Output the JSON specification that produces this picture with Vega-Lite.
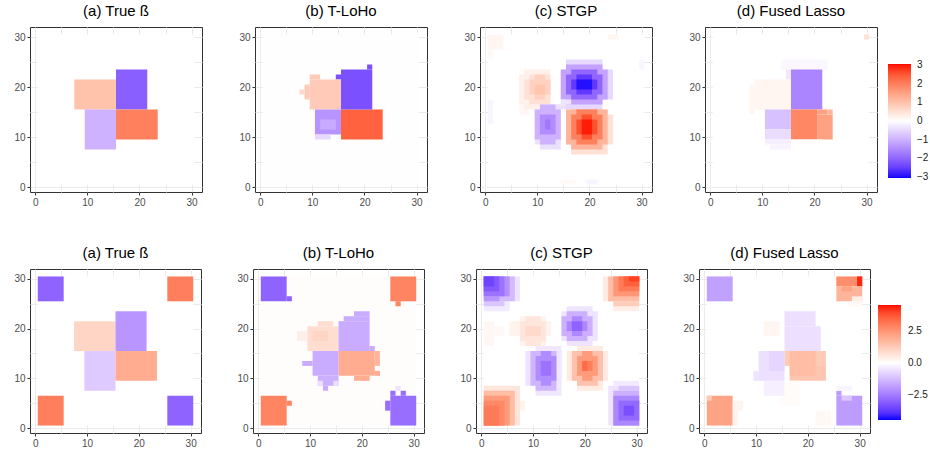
{
"$schema": "https://vega.github.io/schema/vega-lite/v6.json",
"padding": {"left": 13, "top": 3, "right": 0, "bottom": 0},
"data": {"values": [
{"p":"a1","x":0.5,"x2":30.5,"y":0.5,"y2":30.5,"v":0},
{"p":"a1","x":7.5,"x2":15.5,"y":15.5,"y2":21.5,"v":1},
{"p":"a1","x":15.5,"x2":21.5,"y":15.5,"y2":23.5,"v":-2.1},
{"p":"a1","x":9.5,"x2":15.5,"y":7.5,"y2":15.5,"v":-1},
{"p":"a1","x":15.5,"x2":23.5,"y":9.5,"y2":15.5,"v":2},

{"p":"b1","x":0.5,"x2":30.5,"y":0.5,"y2":30.5,"v":0.01},
{"p":"b1","x":15.5,"x2":23.5,"y":9.5,"y2":15.5,"v":2.4},
{"p":"b1","x":15.5,"x2":21.5,"y":15.5,"y2":23.5,"v":-2.3},
{"p":"b1","x":20.5,"x2":21.5,"y":23.5,"y2":24.5,"v":-2.3},
{"p":"b1","x":14.5,"x2":15.5,"y":21.5,"y2":22.5,"v":-2.3},
{"p":"b1","x":9.5,"x2":15.5,"y":15.5,"y2":21.5,"v":0.85},
{"p":"b1","x":9.5,"x2":11.5,"y":21.5,"y2":22.5,"v":0.85},
{"p":"b1","x":8.5,"x2":9.5,"y":17.5,"y2":20.5,"v":0.85},
{"p":"b1","x":7.5,"x2":8.5,"y":18.5,"y2":19.5,"v":0.6},
{"p":"b1","x":10.5,"x2":15.5,"y":10.5,"y2":15.5,"v":-1.4},
{"p":"b1","x":11.5,"x2":14.5,"y":11.5,"y2":13.5,"v":-1.1},
{"p":"b1","x":10.5,"x2":13.5,"y":9.5,"y2":10.5,"v":-0.5},

{"p":"c1","x":0.5,"x2":30.5,"y":0.5,"y2":30.5,"v":0},
{"p":"c1","x":0.5,"x2":3.5,"y":27.5,"y2":30.5,"v":0.15},
{"p":"c1","x":0.5,"x2":1.5,"y":25.5,"y2":27.5,"v":0.1},
{"p":"c1","x":0.5,"x2":1.5,"y":12.5,"y2":17.5,"v":-0.12},
{"p":"c1","x":23.5,"x2":25.5,"y":29.5,"y2":30.5,"v":0.15},
{"p":"c1","x":29.5,"x2":30.5,"y":23.5,"y2":25.5,"v":-0.12},
{"p":"c1","x":14.5,"x2":17.5,"y":0.5,"y2":1.5,"v":0.08},
{"p":"c1","x":19.5,"x2":21.5,"y":0.5,"y2":1.5,"v":-0.15},
{"p":"c1","x":6.5,"x2":8.5,"y":14.5,"y2":16.5,"v":0.12},
{"p":"c1","x":6.5,"x2":12.5,"y":16.5,"y2":22.5,"v":0.25},
{"p":"c1","x":7.5,"x2":12.5,"y":15.5,"y2":23.5,"v":0.25},
{"p":"c1","x":7.5,"x2":12.5,"y":17.5,"y2":21.5,"v":0.5},
{"p":"c1","x":8.5,"x2":12.5,"y":16.5,"y2":22.5,"v":0.5},
{"p":"c1","x":8.5,"x2":12.5,"y":18.5,"y2":21.5,"v":0.75},
{"p":"c1","x":9.5,"x2":11.5,"y":17.5,"y2":22.5,"v":0.75},
{"p":"c1","x":9.5,"x2":11.5,"y":18.5,"y2":20.5,"v":0.95},
{"p":"c1","x":14.5,"x2":24.5,"y":17.5,"y2":23.5,"v":-0.5},
{"p":"c1","x":15.5,"x2":22.5,"y":15.5,"y2":25.5,"v":-0.5},
{"p":"c1","x":14.5,"x2":23.5,"y":17.5,"y2":23.5,"v":-1.2},
{"p":"c1","x":15.5,"x2":22.5,"y":16.5,"y2":24.5,"v":-1.2},
{"p":"c1","x":15.5,"x2":22.5,"y":18.5,"y2":22.5,"v":-2.0},
{"p":"c1","x":16.5,"x2":21.5,"y":17.5,"y2":23.5,"v":-2.0},
{"p":"c1","x":16.5,"x2":21.5,"y":19.5,"y2":21.5,"v":-2.6},
{"p":"c1","x":17.5,"x2":20.5,"y":18.5,"y2":22.5,"v":-2.6},
{"p":"c1","x":17.5,"x2":20.5,"y":19.5,"y2":21.5,"v":-3.0},
{"p":"c1","x":15.5,"x2":24.5,"y":8.5,"y2":14.5,"v":0.5},
{"p":"c1","x":16.5,"x2":23.5,"y":6.5,"y2":15.5,"v":0.5},
{"p":"c1","x":15.5,"x2":23.5,"y":8.5,"y2":15.5,"v":1.2},
{"p":"c1","x":16.5,"x2":22.5,"y":7.5,"y2":15.5,"v":1.2},
{"p":"c1","x":16.5,"x2":22.5,"y":9.5,"y2":14.5,"v":2.0},
{"p":"c1","x":17.5,"x2":21.5,"y":8.5,"y2":15.5,"v":2.0},
{"p":"c1","x":17.5,"x2":21.5,"y":10.5,"y2":13.5,"v":2.6},
{"p":"c1","x":18.5,"x2":20.5,"y":9.5,"y2":14.5,"v":2.6},
{"p":"c1","x":18.5,"x2":20.5,"y":10.5,"y2":13.5,"v":3.0},
{"p":"c1","x":13.5,"x2":15.5,"y":15.5,"y2":16.5,"v":-0.4},
{"p":"c1","x":14.5,"x2":16.5,"y":16.5,"y2":17.5,"v":-0.35},
{"p":"c1","x":9.5,"x2":14.5,"y":8.5,"y2":15.5,"v":-0.4},
{"p":"c1","x":10.5,"x2":14.5,"y":7.5,"y2":16.5,"v":-0.4},
{"p":"c1","x":9.5,"x2":14.5,"y":9.5,"y2":15.5,"v":-1.0},
{"p":"c1","x":10.5,"x2":13.5,"y":8.5,"y2":16.5,"v":-1.0},
{"p":"c1","x":10.5,"x2":13.5,"y":10.5,"y2":14.5,"v":-1.5},
{"p":"c1","x":11.5,"x2":12.5,"y":11.5,"y2":13.5,"v":-1.8},

{"p":"d1","x":0.5,"x2":30.5,"y":0.5,"y2":30.5,"v":0},
{"p":"d1","x":13.5,"x2":22.5,"y":23.5,"y2":25.5,"v":-0.1},
{"p":"d1","x":14.5,"x2":15.5,"y":21.5,"y2":23.5,"v":-0.3},
{"p":"d1","x":8.5,"x2":15.5,"y":15.5,"y2":21.5,"v":0.15},
{"p":"d1","x":7.5,"x2":8.5,"y":14.5,"y2":20.5,"v":0.15},
{"p":"d1","x":15.5,"x2":21.5,"y":15.5,"y2":23.5,"v":-1.6},
{"p":"d1","x":15.5,"x2":20.5,"y":9.5,"y2":15.5,"v":1.9},
{"p":"d1","x":20.5,"x2":23.5,"y":9.5,"y2":14.5,"v":1.5},
{"p":"d1","x":20.5,"x2":22.5,"y":14.5,"y2":15.5,"v":1.5},
{"p":"d1","x":22.5,"x2":23.5,"y":14.5,"y2":15.5,"v":1.2},
{"p":"d1","x":10.5,"x2":15.5,"y":11.5,"y2":15.5,"v":-0.8},
{"p":"d1","x":10.5,"x2":15.5,"y":9.5,"y2":11.5,"v":-0.45},
{"p":"d1","x":10.5,"x2":15.5,"y":8.5,"y2":9.5,"v":-0.2},
{"p":"d1","x":11.5,"x2":15.5,"y":7.5,"y2":8.5,"v":-0.15},
{"p":"d1","x":15.5,"x2":21.5,"y":8.5,"y2":9.5,"v":0.05},
{"p":"d1","x":29.5,"x2":30.5,"y":29.5,"y2":30.5,"v":0.5},

{"p":"a2","x":0.5,"x2":30.5,"y":0.5,"y2":30.5,"v":0},
{"p":"a2","x":0.5,"x2":5.5,"y":25.5,"y2":30.5,"v":-3},
{"p":"a2","x":25.5,"x2":30.5,"y":25.5,"y2":30.5,"v":3},
{"p":"a2","x":0.5,"x2":5.5,"y":0.5,"y2":6.5,"v":3},
{"p":"a2","x":25.5,"x2":30.5,"y":0.5,"y2":6.5,"v":-3},
{"p":"a2","x":7.5,"x2":15.5,"y":15.5,"y2":21.5,"v":1},
{"p":"a2","x":15.5,"x2":21.5,"y":15.5,"y2":23.5,"v":-2},
{"p":"a2","x":9.5,"x2":15.5,"y":7.5,"y2":15.5,"v":-1},
{"p":"a2","x":15.5,"x2":23.5,"y":9.5,"y2":15.5,"v":2},

{"p":"b2","x":0.5,"x2":30.5,"y":0.5,"y2":30.5,"v":0.05},
{"p":"b2","x":0.5,"x2":5.5,"y":25.5,"y2":30.5,"v":-3},
{"p":"b2","x":5.5,"x2":6.5,"y":25.5,"y2":26.5,"v":-3},
{"p":"b2","x":25.5,"x2":30.5,"y":25.5,"y2":30.5,"v":2.9},
{"p":"b2","x":26.5,"x2":27.5,"y":24.5,"y2":25.5,"v":2.9},
{"p":"b2","x":0.5,"x2":5.5,"y":0.5,"y2":6.5,"v":2.9},
{"p":"b2","x":5.5,"x2":6.5,"y":4.5,"y2":5.5,"v":2.9},
{"p":"b2","x":25.5,"x2":30.5,"y":0.5,"y2":6.5,"v":-2.8},
{"p":"b2","x":24.5,"x2":25.5,"y":3.5,"y2":5.5,"v":-2.8},
{"p":"b2","x":25.5,"x2":26.5,"y":6.5,"y2":7.5,"v":-2.8},
{"p":"b2","x":27.5,"x2":28.5,"y":6.5,"y2":7.5,"v":-2.8},
{"p":"b2","x":26.5,"x2":27.5,"y":7.5,"y2":8.5,"v":-0.5},
{"p":"b2","x":7.5,"x2":9.5,"y":17.5,"y2":19.5,"v":0.4},
{"p":"b2","x":9.5,"x2":15.5,"y":15.5,"y2":20.5,"v":0.8},
{"p":"b2","x":11.5,"x2":14.5,"y":20.5,"y2":21.5,"v":0.8},
{"p":"b2","x":10.5,"x2":13.5,"y":17.5,"y2":19.5,"v":1.0},
{"p":"b2","x":15.5,"x2":21.5,"y":15.5,"y2":21.5,"v":-1.6},
{"p":"b2","x":16.5,"x2":21.5,"y":21.5,"y2":22.5,"v":-1.6},
{"p":"b2","x":18.5,"x2":21.5,"y":22.5,"y2":23.5,"v":-1.6},
{"p":"b2","x":21.5,"x2":22.5,"y":15.5,"y2":16.5,"v":-1.6},
{"p":"b2","x":15.5,"x2":22.5,"y":10.5,"y2":15.5,"v":2},
{"p":"b2","x":22.5,"x2":23.5,"y":12.5,"y2":15.5,"v":1.8},
{"p":"b2","x":18.5,"x2":21.5,"y":9.5,"y2":10.5,"v":2},
{"p":"b2","x":22.5,"x2":23.5,"y":10.5,"y2":11.5,"v":2},
{"p":"b2","x":10.5,"x2":15.5,"y":10.5,"y2":15.5,"v":-1.6},
{"p":"b2","x":8.5,"x2":10.5,"y":12.5,"y2":13.5,"v":-1.6},
{"p":"b2","x":11.5,"x2":15.5,"y":8.5,"y2":10.5,"v":-1.5},
{"p":"b2","x":11.5,"x2":12.5,"y":8.5,"y2":9.5,"v":-0.6},
{"p":"b2","x":14.5,"x2":15.5,"y":8.5,"y2":9.5,"v":-0.6},
{"p":"b2","x":12.5,"x2":13.5,"y":7.5,"y2":8.5,"v":-1.6},

{"p":"c2","x":0.5,"x2":30.5,"y":0.5,"y2":30.5,"v":0},
{"p":"c2","x":0.5,"x2":7.5,"y":25.5,"y2":30.5,"v":-0.5},
{"p":"c2","x":0.5,"x2":5.5,"y":23.5,"y2":25.5,"v":-0.4},
{"p":"c2","x":0.5,"x2":6.5,"y":25.5,"y2":30.5,"v":-1.3},
{"p":"c2","x":0.5,"x2":4.5,"y":24.5,"y2":25.5,"v":-1.1},
{"p":"c2","x":0.5,"x2":5.5,"y":26.5,"y2":30.5,"v":-2.1},
{"p":"c2","x":0.5,"x2":3.5,"y":25.5,"y2":26.5,"v":-2.0},
{"p":"c2","x":0.5,"x2":4.5,"y":26.5,"y2":30.5,"v":-2.7},
{"p":"c2","x":0.5,"x2":3.5,"y":27.5,"y2":30.5,"v":-3.2},
{"p":"c2","x":0.5,"x2":2.5,"y":28.5,"y2":30.5,"v":-3.6},
{"p":"c2","x":23.5,"x2":30.5,"y":25.5,"y2":30.5,"v":0.5},
{"p":"c2","x":25.5,"x2":30.5,"y":23.5,"y2":25.5,"v":0.4},
{"p":"c2","x":24.5,"x2":30.5,"y":25.5,"y2":30.5,"v":1.6},
{"p":"c2","x":25.5,"x2":30.5,"y":24.5,"y2":25.5,"v":1.2},
{"p":"c2","x":25.5,"x2":30.5,"y":26.5,"y2":30.5,"v":2.5},
{"p":"c2","x":26.5,"x2":30.5,"y":27.5,"y2":30.5,"v":3.1},
{"p":"c2","x":27.5,"x2":30.5,"y":28.5,"y2":30.5,"v":3.6},
{"p":"c2","x":28.5,"x2":30.5,"y":29.5,"y2":30.5,"v":4.1},
{"p":"c2","x":0.5,"x2":7.5,"y":0.5,"y2":8.5,"v":0.6},
{"p":"c2","x":7.5,"x2":8.5,"y":3.5,"y2":5.5,"v":0.3},
{"p":"c2","x":0.5,"x2":6.5,"y":0.5,"y2":7.5,"v":1.6},
{"p":"c2","x":0.5,"x2":5.5,"y":0.5,"y2":6.5,"v":2.4},
{"p":"c2","x":0.5,"x2":4.5,"y":0.5,"y2":5.5,"v":2.8},
{"p":"c2","x":0.5,"x2":3.5,"y":0.5,"y2":4.5,"v":3.1},
{"p":"c2","x":24.5,"x2":30.5,"y":0.5,"y2":8.5,"v":-0.5},
{"p":"c2","x":25.5,"x2":30.5,"y":8.5,"y2":9.5,"v":-0.4},
{"p":"c2","x":25.5,"x2":30.5,"y":0.5,"y2":7.5,"v":-1.5},
{"p":"c2","x":26.5,"x2":30.5,"y":7.5,"y2":8.5,"v":-1.1},
{"p":"c2","x":25.5,"x2":30.5,"y":0.5,"y2":6.5,"v":-2.3},
{"p":"c2","x":26.5,"x2":30.5,"y":1.5,"y2":5.5,"v":-2.9},
{"p":"c2","x":27.5,"x2":29.5,"y":2.5,"y2":4.5,"v":-3.4},
{"p":"c2","x":15.5,"x2":22.5,"y":17.5,"y2":23.5,"v":-0.5},
{"p":"c2","x":16.5,"x2":21.5,"y":16.5,"y2":24.5,"v":-0.5},
{"p":"c2","x":15.5,"x2":21.5,"y":18.5,"y2":22.5,"v":-1.5},
{"p":"c2","x":16.5,"x2":20.5,"y":17.5,"y2":23.5,"v":-1.5},
{"p":"c2","x":16.5,"x2":20.5,"y":19.5,"y2":21.5,"v":-2.3},
{"p":"c2","x":17.5,"x2":19.5,"y":18.5,"y2":22.5,"v":-2.3},
{"p":"c2","x":17.5,"x2":19.5,"y":19.5,"y2":21.5,"v":-3.0},
{"p":"c2","x":16.5,"x2":24.5,"y":9.5,"y2":15.5,"v":0.5},
{"p":"c2","x":18.5,"x2":23.5,"y":7.5,"y2":16.5,"v":0.5},
{"p":"c2","x":17.5,"x2":23.5,"y":9.5,"y2":15.5,"v":1.5},
{"p":"c2","x":18.5,"x2":22.5,"y":8.5,"y2":15.5,"v":1.5},
{"p":"c2","x":18.5,"x2":22.5,"y":10.5,"y2":14.5,"v":2.4},
{"p":"c2","x":19.5,"x2":21.5,"y":9.5,"y2":15.5,"v":2.4},
{"p":"c2","x":19.5,"x2":21.5,"y":11.5,"y2":13.5,"v":3.0},
{"p":"c2","x":19.5,"x2":20.5,"y":11.5,"y2":13.5,"v":3.4},
{"p":"c2","x":5.5,"x2":13.5,"y":18.5,"y2":21.5,"v":0.3},
{"p":"c2","x":7.5,"x2":12.5,"y":16.5,"y2":22.5,"v":0.3},
{"p":"c2","x":7.5,"x2":12.5,"y":17.5,"y2":21.5,"v":0.6},
{"p":"c2","x":8.5,"x2":11.5,"y":16.5,"y2":22.5,"v":0.6},
{"p":"c2","x":8.5,"x2":11.5,"y":18.5,"y2":20.5,"v":0.9},
{"p":"c2","x":0.5,"x2":2.5,"y":16.5,"y2":21.5,"v":0.2},
{"p":"c2","x":2.5,"x2":4.5,"y":18.5,"y2":20.5,"v":0.15},
{"p":"c2","x":8.5,"x2":15.5,"y":8.5,"y2":15.5,"v":-0.5},
{"p":"c2","x":10.5,"x2":15.5,"y":6.5,"y2":16.5,"v":-0.45},
{"p":"c2","x":9.5,"x2":14.5,"y":8.5,"y2":15.5,"v":-1.4},
{"p":"c2","x":10.5,"x2":14.5,"y":7.5,"y2":15.5,"v":-1.4},
{"p":"c2","x":10.5,"x2":14.5,"y":9.5,"y2":14.5,"v":-2.2},
{"p":"c2","x":11.5,"x2":13.5,"y":8.5,"y2":15.5,"v":-2.2},
{"p":"c2","x":11.5,"x2":13.5,"y":10.5,"y2":13.5,"v":-2.7},

{"p":"d2","x":0.5,"x2":30.5,"y":0.5,"y2":30.5,"v":0},
{"p":"d2","x":0.5,"x2":5.5,"y":25.5,"y2":30.5,"v":-1.8},
{"p":"d2","x":25.5,"x2":30.5,"y":28.5,"y2":30.5,"v":2.7},
{"p":"d2","x":29.5,"x2":30.5,"y":28.5,"y2":30.5,"v":4.4},
{"p":"d2","x":25.5,"x2":30.5,"y":25.5,"y2":28.5,"v":1.8},
{"p":"d2","x":26.5,"x2":28.5,"y":27.5,"y2":28.5,"v":2.2},
{"p":"d2","x":28.5,"x2":30.5,"y":25.5,"y2":26.5,"v":0.4},
{"p":"d2","x":27.5,"x2":30.5,"y":24.5,"y2":25.5,"v":0.12},
{"p":"d2","x":0.5,"x2":5.5,"y":0.5,"y2":6.5,"v":2.2},
{"p":"d2","x":0.5,"x2":1.5,"y":5.5,"y2":6.5,"v":1.3},
{"p":"d2","x":5.5,"x2":7.5,"y":3.5,"y2":5.5,"v":0.3},
{"p":"d2","x":5.5,"x2":6.5,"y":0.5,"y2":3.5,"v":0.3},
{"p":"d2","x":25.5,"x2":30.5,"y":0.5,"y2":6.5,"v":-1.9},
{"p":"d2","x":26.5,"x2":28.5,"y":5.5,"y2":6.5,"v":-1.1},
{"p":"d2","x":25.5,"x2":26.5,"y":6.5,"y2":7.5,"v":-1.9},
{"p":"d2","x":25.5,"x2":28.5,"y":7.5,"y2":8.5,"v":-0.2},
{"p":"d2","x":15.5,"x2":21.5,"y":20.5,"y2":23.5,"v":-0.6},
{"p":"d2","x":15.5,"x2":22.5,"y":15.5,"y2":20.5,"v":-0.6},
{"p":"d2","x":11.5,"x2":14.5,"y":18.5,"y2":21.5,"v":0.25},
{"p":"d2","x":15.5,"x2":23.5,"y":12.5,"y2":15.5,"v":1.3},
{"p":"d2","x":16.5,"x2":23.5,"y":9.5,"y2":12.5,"v":1.4},
{"p":"d2","x":16.5,"x2":21.5,"y":10.5,"y2":15.5,"v":1.6},
{"p":"d2","x":15.5,"x2":18.5,"y":6.5,"y2":9.5,"v":0.08},
{"p":"d2","x":14.5,"x2":18.5,"y":4.5,"y2":6.5,"v":0.08},
{"p":"d2","x":10.5,"x2":15.5,"y":9.5,"y2":15.5,"v":-0.6},
{"p":"d2","x":12.5,"x2":15.5,"y":11.5,"y2":15.5,"v":-0.8},
{"p":"d2","x":9.5,"x2":10.5,"y":9.5,"y2":11.5,"v":-0.5},
{"p":"d2","x":11.5,"x2":15.5,"y":6.5,"y2":9.5,"v":-0.3},
{"p":"d2","x":21.5,"x2":24.5,"y":0.5,"y2":3.5,"v":0.15}
]},
"vconcat": [
{"spacing": 35, "resolve": {"scale": {"color": "shared"}},
 "hconcat": [
  {"title": "(a) True ß", "width": 172, "height": 165, "transform": [{"filter": "datum.p === 'a1'"}], "mark": "rect",
   "encoding": {
    "x": {"field": "x", "type": "quantitative", "title": null, "scale": {"domain": [-1, 32], "nice": false, "zero": false}, "axis": {"values": [0,5,10,15,20,25,30], "labelExpr": "datum.value % 10 === 0 ? datum.label : ''", "tickOpacity": {"condition": {"test": "datum.value % 10 === 0", "value": 1}, "value": 0}}},
    "x2": {"field": "x2"},
    "y": {"field": "y", "type": "quantitative", "title": null, "scale": {"domain": [-1, 32], "nice": false, "zero": false}, "axis": {"values": [0,5,10,15,20,25,30], "labelExpr": "datum.value % 10 === 0 ? datum.label : ''", "tickOpacity": {"condition": {"test": "datum.value % 10 === 0", "value": 1}, "value": 0}}},
    "y2": {"field": "y2"},
    "color": {"field": "v", "type": "quantitative", "scale": {"domain": [-3.08, 0, 3.08], "range": ["#0000ff", "#ffffff", "#ff0000"], "interpolate": "lab"},
      "legend": {"title": null, "orient": "none", "legendX": 858, "legendY": 37, "gradientLength": 114, "gradientThickness": 23, "values": [-3,-2,-1,0,1,2,3], "labelOffset": 6}}
   }},
  {"title": "(b) T-LoHo", "width": 172, "height": 165, "transform": [{"filter": "datum.p === 'b1'"}], "mark": "rect",
   "encoding": {
    "x": {"field": "x", "type": "quantitative", "title": null, "scale": {"domain": [-1, 32], "nice": false, "zero": false}, "axis": {"values": [0,5,10,15,20,25,30], "labelExpr": "datum.value % 10 === 0 ? datum.label : ''", "tickOpacity": {"condition": {"test": "datum.value % 10 === 0", "value": 1}, "value": 0}}},
    "x2": {"field": "x2"},
    "y": {"field": "y", "type": "quantitative", "title": null, "scale": {"domain": [-1, 32], "nice": false, "zero": false}, "axis": {"values": [0,5,10,15,20,25,30], "labelExpr": "datum.value % 10 === 0 ? datum.label : ''", "tickOpacity": {"condition": {"test": "datum.value % 10 === 0", "value": 1}, "value": 0}}},
    "y2": {"field": "y2"},
    "color": {"field": "v", "type": "quantitative", "scale": {"domain": [-3.08, 0, 3.08], "range": ["#0000ff", "#ffffff", "#ff0000"], "interpolate": "lab"},
      "legend": {"title": null, "orient": "none", "legendX": 858, "legendY": 37, "gradientLength": 114, "gradientThickness": 23, "values": [-3,-2,-1,0,1,2,3], "labelOffset": 6}}
   }},
  {"title": "(c) STGP", "width": 172, "height": 165, "transform": [{"filter": "datum.p === 'c1'"}], "mark": "rect",
   "encoding": {
    "x": {"field": "x", "type": "quantitative", "title": null, "scale": {"domain": [-1, 32], "nice": false, "zero": false}, "axis": {"values": [0,5,10,15,20,25,30], "labelExpr": "datum.value % 10 === 0 ? datum.label : ''", "tickOpacity": {"condition": {"test": "datum.value % 10 === 0", "value": 1}, "value": 0}}},
    "x2": {"field": "x2"},
    "y": {"field": "y", "type": "quantitative", "title": null, "scale": {"domain": [-1, 32], "nice": false, "zero": false}, "axis": {"values": [0,5,10,15,20,25,30], "labelExpr": "datum.value % 10 === 0 ? datum.label : ''", "tickOpacity": {"condition": {"test": "datum.value % 10 === 0", "value": 1}, "value": 0}}},
    "y2": {"field": "y2"},
    "color": {"field": "v", "type": "quantitative", "scale": {"domain": [-3.08, 0, 3.08], "range": ["#0000ff", "#ffffff", "#ff0000"], "interpolate": "lab"},
      "legend": {"title": null, "orient": "none", "legendX": 858, "legendY": 37, "gradientLength": 114, "gradientThickness": 23, "values": [-3,-2,-1,0,1,2,3], "labelOffset": 6}}
   }},
  {"title": "(d) Fused Lasso", "width": 172, "height": 165, "transform": [{"filter": "datum.p === 'd1'"}], "mark": "rect",
   "encoding": {
    "x": {"field": "x", "type": "quantitative", "title": null, "scale": {"domain": [-1, 32], "nice": false, "zero": false}, "axis": {"values": [0,5,10,15,20,25,30], "labelExpr": "datum.value % 10 === 0 ? datum.label : ''", "tickOpacity": {"condition": {"test": "datum.value % 10 === 0", "value": 1}, "value": 0}}},
    "x2": {"field": "x2"},
    "y": {"field": "y", "type": "quantitative", "title": null, "scale": {"domain": [-1, 32], "nice": false, "zero": false}, "axis": {"values": [0,5,10,15,20,25,30], "labelExpr": "datum.value % 10 === 0 ? datum.label : ''", "tickOpacity": {"condition": {"test": "datum.value % 10 === 0", "value": 1}, "value": 0}}},
    "y2": {"field": "y2"},
    "color": {"field": "v", "type": "quantitative", "scale": {"domain": [-3.08, 0, 3.08], "range": ["#0000ff", "#ffffff", "#ff0000"], "interpolate": "lab"},
      "legend": {"title": null, "orient": "none", "legendX": 858, "legendY": 37, "gradientLength": 114, "gradientThickness": 23, "values": [-3,-2,-1,0,1,2,3], "labelOffset": 6}}
   }}
 ]},
{"spacing": 34, "resolve": {"scale": {"color": "shared"}},
 "hconcat": [
  {"title": "(a) True ß", "width": 171, "height": 164, "transform": [{"filter": "datum.p === 'a2'"}], "mark": "rect",
   "encoding": {
    "x": {"field": "x", "type": "quantitative", "title": null, "scale": {"domain": [-1, 32], "nice": false, "zero": false}, "axis": {"values": [0,5,10,15,20,25,30], "labelExpr": "datum.value % 10 === 0 ? datum.label : ''", "tickOpacity": {"condition": {"test": "datum.value % 10 === 0", "value": 1}, "value": 0}}},
    "x2": {"field": "x2"},
    "y": {"field": "y", "type": "quantitative", "title": null, "scale": {"domain": [-1, 32], "nice": false, "zero": false}, "axis": {"values": [0,5,10,15,20,25,30], "labelExpr": "datum.value % 10 === 0 ? datum.label : ''", "tickOpacity": {"condition": {"test": "datum.value % 10 === 0", "value": 1}, "value": 0}}},
    "y2": {"field": "y2"},
    "color": {"field": "v", "type": "quantitative", "scale": {"domain": [-4.52, 0, 4.59], "range": ["#0000ff", "#ffffff", "#ff0000"], "interpolate": "lab"},
      "legend": {"title": null, "orient": "none", "legendX": 848, "legendY": 36, "gradientLength": 115, "gradientThickness": 23, "values": [-2.5, 0, 2.5], "format": ".1f", "labelOffset": 7}}
   }},
  {"title": "(b) T-LoHo", "width": 171, "height": 164, "transform": [{"filter": "datum.p === 'b2'"}], "mark": "rect",
   "encoding": {
    "x": {"field": "x", "type": "quantitative", "title": null, "scale": {"domain": [-1, 32], "nice": false, "zero": false}, "axis": {"values": [0,5,10,15,20,25,30], "labelExpr": "datum.value % 10 === 0 ? datum.label : ''", "tickOpacity": {"condition": {"test": "datum.value % 10 === 0", "value": 1}, "value": 0}}},
    "x2": {"field": "x2"},
    "y": {"field": "y", "type": "quantitative", "title": null, "scale": {"domain": [-1, 32], "nice": false, "zero": false}, "axis": {"values": [0,5,10,15,20,25,30], "labelExpr": "datum.value % 10 === 0 ? datum.label : ''", "tickOpacity": {"condition": {"test": "datum.value % 10 === 0", "value": 1}, "value": 0}}},
    "y2": {"field": "y2"},
    "color": {"field": "v", "type": "quantitative", "scale": {"domain": [-4.52, 0, 4.59], "range": ["#0000ff", "#ffffff", "#ff0000"], "interpolate": "lab"},
      "legend": {"title": null, "orient": "none", "legendX": 848, "legendY": 36, "gradientLength": 115, "gradientThickness": 23, "values": [-2.5, 0, 2.5], "format": ".1f", "labelOffset": 7}}
   }},
  {"title": "(c) STGP", "width": 171, "height": 164, "transform": [{"filter": "datum.p === 'c2'"}], "mark": "rect",
   "encoding": {
    "x": {"field": "x", "type": "quantitative", "title": null, "scale": {"domain": [-1, 32], "nice": false, "zero": false}, "axis": {"values": [0,5,10,15,20,25,30], "labelExpr": "datum.value % 10 === 0 ? datum.label : ''", "tickOpacity": {"condition": {"test": "datum.value % 10 === 0", "value": 1}, "value": 0}}},
    "x2": {"field": "x2"},
    "y": {"field": "y", "type": "quantitative", "title": null, "scale": {"domain": [-1, 32], "nice": false, "zero": false}, "axis": {"values": [0,5,10,15,20,25,30], "labelExpr": "datum.value % 10 === 0 ? datum.label : ''", "tickOpacity": {"condition": {"test": "datum.value % 10 === 0", "value": 1}, "value": 0}}},
    "y2": {"field": "y2"},
    "color": {"field": "v", "type": "quantitative", "scale": {"domain": [-4.52, 0, 4.59], "range": ["#0000ff", "#ffffff", "#ff0000"], "interpolate": "lab"},
      "legend": {"title": null, "orient": "none", "legendX": 848, "legendY": 36, "gradientLength": 115, "gradientThickness": 23, "values": [-2.5, 0, 2.5], "format": ".1f", "labelOffset": 7}}
   }},
  {"title": "(d) Fused Lasso", "width": 171, "height": 164, "transform": [{"filter": "datum.p === 'd2'"}], "mark": "rect",
   "encoding": {
    "x": {"field": "x", "type": "quantitative", "title": null, "scale": {"domain": [-1, 32], "nice": false, "zero": false}, "axis": {"values": [0,5,10,15,20,25,30], "labelExpr": "datum.value % 10 === 0 ? datum.label : ''", "tickOpacity": {"condition": {"test": "datum.value % 10 === 0", "value": 1}, "value": 0}}},
    "x2": {"field": "x2"},
    "y": {"field": "y", "type": "quantitative", "title": null, "scale": {"domain": [-1, 32], "nice": false, "zero": false}, "axis": {"values": [0,5,10,15,20,25,30], "labelExpr": "datum.value % 10 === 0 ? datum.label : ''", "tickOpacity": {"condition": {"test": "datum.value % 10 === 0", "value": 1}, "value": 0}}},
    "y2": {"field": "y2"},
    "color": {"field": "v", "type": "quantitative", "scale": {"domain": [-4.52, 0, 4.59], "range": ["#0000ff", "#ffffff", "#ff0000"], "interpolate": "lab"},
      "legend": {"title": null, "orient": "none", "legendX": 848, "legendY": 36, "gradientLength": 115, "gradientThickness": 23, "values": [-2.5, 0, 2.5], "format": ".1f", "labelOffset": 7}}
   }}
 ]}
],
"spacing": 37,
"resolve": {"scale": {"color": "independent"}, "legend": {"color": "independent"}},
"config": {
 "font": "Liberation Sans",
 "view": {"stroke": "#333333", "strokeWidth": 1},
 "axis": {"domain": false, "grid": true, "gridColor": "#EBEBEB", "gridWidth": 1, "tickColor": "#333333", "tickSize": 3, "tickWidth": 1, "labelColor": "#4D4D4D", "labelFontSize": 10, "labelPadding": 2, "labelFlush": false, "labelOverlap": false},
 "title": {"fontSize": 15, "fontWeight": "normal", "color": "#000000", "offset": 8},
 "legend": {"labelFontSize": 10, "labelColor": "#1A1A1A", "gradientStrokeWidth": 0, "labelOverlap": false, "direction": "vertical"}
}
}
